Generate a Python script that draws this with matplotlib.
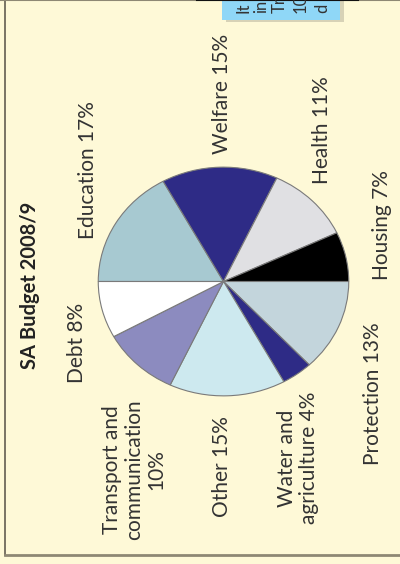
import matplotlib.pyplot as plt
from matplotlib.patches import Rectangle

# budget shares, in pie order (clockwise from the left)
categories = ["Education", "Welfare", "Health", "Housing", "Protection",
              "Water and\nagriculture", "Other", "Transport and\ncommunication\n", "Debt"]
shares = [17, 15, 11, 7, 13, 4, 15, 10, 8]
colors = ["#a7c9d1", "#2e2b86", "#e0e0e3", "#000000", "#c3d5dc",
          "#2e2b86", "#cde9ef", "#8c8bbf", "#ffffff"]
title = "SA Budget 2008/9"

bg = "#fef9d7"
txt = "#333333"
font = "Lato"

fig = plt.figure(figsize=(4, 5.64), dpi=100, facecolor=bg)

# full-figure axes in pixel coordinates for the labels and frame
back = fig.add_axes([0, 0, 1, 1], zorder=0)
back.set_xlim(0, 400)
back.set_ylim(564, 0)
back.axis("off")
back.set_facecolor(bg)

# frame lines
back.plot([4.5, 4.5], [0, 555], color="#6e6a5c", lw=1.3)
back.plot([4.5, 400], [555, 555], color="#8e8874", lw=2)
back.plot([0, 400], [0.3, 0.3], color="#8e8874", lw=1.5)
back.plot([197, 358], [0.3, 0.3], color="#111111", lw=1.5)

# clipped note box in the top right corner
back.add_patch(Rectangle((226, 0), 118, 22, color="#bdb9a0", alpha=0.6, lw=0))
back.add_patch(Rectangle((222, 0), 118, 20, color="#8fd7f7", lw=0))
for x, s in zip([243, 261, 280, 301, 322], ["It", "in", "Tr", "10", "d"]):
    back.text(x, 13, s, rotation=90, rotation_mode="anchor", ha="left",
              va="center", fontsize=12, color=txt, family=font)

# pie, squashed into an ellipse like the original
ax = fig.add_axes([97 / 400, 1 - 397 / 564, 253 / 400, 231 / 564], zorder=1)
ax.pie(shares, colors=colors, startangle=180, counterclock=False,
       wedgeprops=dict(edgecolor="#7a7a7a", linewidth=0.8))
ax.set_xlim(-1.01, 1.01)
ax.set_ylim(-1.01, 1.01)
ax.set_aspect("auto")
ax.axis("off")

# label placement (pixel centres), text reads bottom-to-top
label_pos = [(88, 170), (222, 94), (322, 130), (382, 225), (373, 394),
             (298, 458), (222, 467), (134, 470), (77, 343)]
for name, val, (x, y) in zip(categories, shares, label_pos):
    if name.endswith("\n"):
        s = f"{name}{val}%"
    else:
        s = f"{name} {val}%"
    back.text(x, y, s, rotation=90, ha="center", va="center",
              multialignment="center", linespacing=1.15,
              fontsize=15, color=txt, family=font)

back.text(30, 285, title, rotation=90, ha="center", va="center",
          fontsize=14.5, fontweight="bold", color="#222222", family=font)

fig.savefig("out.png", dpi=100, facecolor=bg)
